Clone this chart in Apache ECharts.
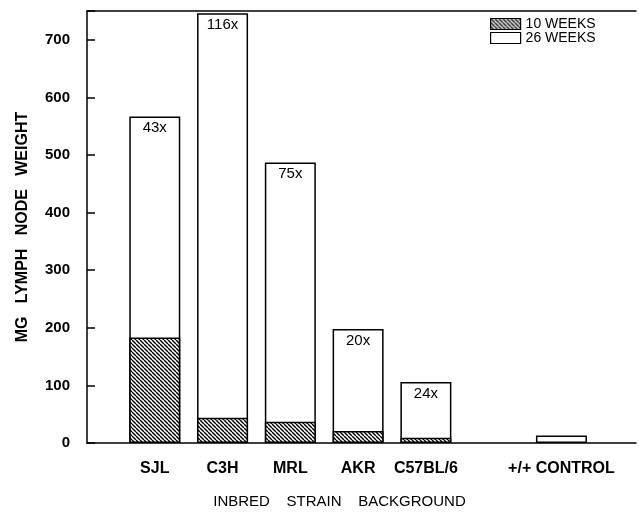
<!DOCTYPE html>
<html lang="en">
<head>
<meta charset="UTF-8" />
<title>MG Lymph Node Weight by Inbred Strain</title>
<script src="https://cdn.jsdelivr.net/npm/echarts@6/dist/echarts.min.js"></script>
<style>
    html, body { margin: 0; padding: 0; background: #fff; }
    #main { width: 639px; height: 514px; }
</style>
</head>
<body>
<div id="main"></div>
<script type="text/javascript">
    // data
    var strains = ['SJL', 'C3H', 'MRL', 'AKR', 'C57BL/6', '+/+ CONTROL'];
    var slots = [1, 2, 3, 4, 5, 7];          // control stands one slot apart
    var weeks10 = [183, 44, 37, 21, 9, null];
    var weeks26 = [567, 746, 487, 198, 106, 13];
    var foldLabels = ['43x', '116x', '75x', '20x', '24x', ''];

    var font = '"Liberation Sans", Arial, Helvetica, sans-serif';

    // diagonal hatch for the 10 week bars
    function hatch() {
        var c = document.createElement('canvas');
        c.width = 4; c.height = 4;
        var ctx = c.getContext('2d');
        ctx.fillStyle = '#fff';
        ctx.fillRect(0, 0, 4, 4);
        ctx.strokeStyle = '#000';
        ctx.lineWidth = 1.4;
        for (var o = -4; o <= 4; o += 4) {
            ctx.beginPath();
            ctx.moveTo(o, 0);
            ctx.lineTo(o + 4, 4);
            ctx.stroke();
        }
        return c;
    }

    function pairs(vals) {
        return vals.map(function (v, i) { return [slots[i], v]; });
    }

    var myChart = echarts.init(document.getElementById('main'));
    var option = {
        animation: false,
        backgroundColor: '#fff',
        grid: { left: 87, right: 0, top: 11, bottom: 67 },
        legend: {
            data: ['10 WEEKS', '26 WEEKS'],
            orient: 'vertical',
            left: 490,
            top: 17,
            padding: 0,
            itemGap: 0,
            itemWidth: 30,
            itemHeight: 11,
            icon: 'rect',
            textStyle: { fontFamily: font, fontSize: 14, color: '#000', lineHeight: 11 },
            itemStyle: { borderColor: '#000', borderWidth: 1.2 }
        },
        xAxis: [
            {
                type: 'value',
                min: 0,
                max: 8.1,
                interval: 1,
                name: 'INBRED    STRAIN    BACKGROUND',
                nameLocation: 'middle',
                nameGap: 51,
                nameTextStyle: { fontFamily: font, fontSize: 15, color: '#000', padding: [0, 44, 0, 0] },
                axisLine: { lineStyle: { color: '#000', width: 1.5 } },
                axisTick: { show: false },
                splitLine: { show: false },
                axisLabel: {
                    margin: 18,
                    fontFamily: font,
                    fontSize: 16,
                    fontWeight: 'bold',
                    color: '#000',
                    formatter: function (v) {
                        var i = slots.indexOf(v);
                        return i < 0 ? '' : strains[i];
                    }
                }
            },
            {
                type: 'value',
                position: 'top',
                min: 0,
                max: 8.1,
                axisLine: { lineStyle: { color: '#000', width: 1.5 } },
                axisTick: { show: false },
                axisLabel: { show: false },
                splitLine: { show: false }
            }
        ],
        yAxis: {
            type: 'value',
            min: 0,
            max: 750,
            interval: 100,
            name: 'MG   LYMPH   NODE   WEIGHT',
            nameLocation: 'middle',
            nameGap: 56,
            nameTextStyle: { fontFamily: font, fontSize: 16, fontWeight: 'bold', color: '#000' },
            axisLine: { show: true, lineStyle: { color: '#000', width: 1.5 } },
            axisTick: { show: true, inside: true, length: 8, lineStyle: { color: '#000', width: 1.5 } },
            splitLine: { show: false },
            axisLabel: {
                margin: 17,
                fontFamily: font,
                fontSize: 15,
                fontWeight: 'bold',
                color: '#000',
                formatter: function (v) { return v > 700 ? '' : v; }
            }
        },
        series: [
            {
                name: '26 WEEKS',
                type: 'bar',
                barWidth: 51,
                data: pairs(weeks26),
                itemStyle: { color: '#fff', borderColor: '#000', borderWidth: 1.5 },
                label: {
                    show: true,
                    position: 'insideTop',
                    distance: 4,
                    fontFamily: font,
                    fontSize: 15,
                    color: '#000',
                    formatter: function (p) { return foldLabels[p.dataIndex]; }
                },
                z: 2
            },
            {
                name: '10 WEEKS',
                type: 'bar',
                barWidth: 51,
                barGap: '-100%',
                data: pairs(weeks10),
                itemStyle: {
                    color: { image: hatch(), repeat: 'repeat' },
                    borderColor: '#000',
                    borderWidth: 1.5
                },
                z: 3
            }
        ]
    };
    myChart.setOption(option);
</script>
</body>
</html>
